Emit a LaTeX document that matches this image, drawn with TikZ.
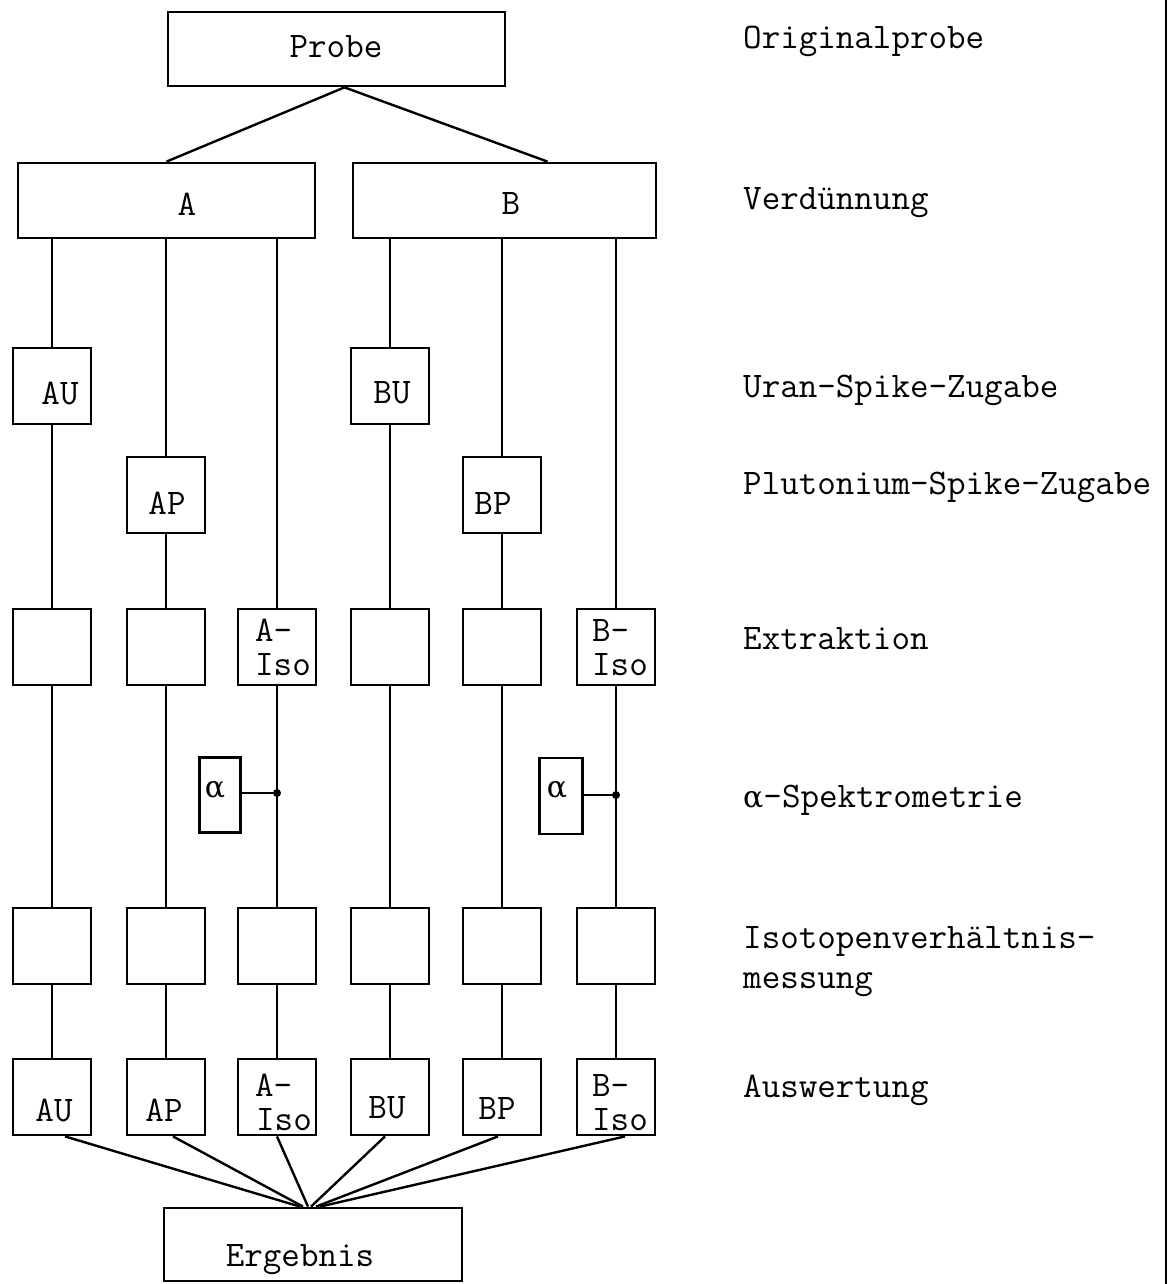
\documentclass[tikz,border=0pt]{standalone}
\usepackage{fontspec}
\newfontfamily\grk{DejaVu Serif}
\newcommand{\alf}{{\grk\fontsize{30}{32}\selectfont α}}
\tikzset{
  bx/.style={draw, line width=2.8pt, inner sep=0pt},
  sq/.style={bx, minimum width=78pt, minimum height=76pt},
  tx/.style={inner sep=0pt, font=\ttfamily\fontsize{36}{38}\selectfont},
  ln/.style={line width=2.4pt},
}
\begin{document}
\begin{tikzpicture}[x=1pt,y=-1pt]
\useasboundingbox (0,0) rectangle (1174,1284);

% top boxes
\node[bx, minimum width=337pt, minimum height=74pt] (P) at (336.5,49) {};
\node[tx] (Pt) at (336,47) {Probe};
\node[bx, minimum width=297pt, minimum height=75pt] (A) at (166.5,200.5) {};
\node[tx] (At) at (187,204) {A};
\node[bx, minimum width=303pt, minimum height=75pt] (B) at (504.5,200.5) {};
\node[tx] (Bt) at (511,204) {B};

\draw[ln] ([xshift=8pt]P.south) -- (A.north);
\draw[ln] ([xshift=8pt]P.south) -- ([xshift=43pt]B.north);

% spike boxes
\node[sq] (U1) at (52,386) {};   \node[tx] (U1t) at (60,393) {AU};
\node[sq] (U4) at (390,386) {};  \node[tx] (U4t) at (392,393) {BU};
\node[sq] (P2) at (166,495) {};  \node[tx] (P2t) at (167,503) {AP};
\node[sq] (P5) at (502,495) {};  \node[tx] (P5t) at (493,503) {BP};

% extraction
\node[sq] (E1) at (52,647) {};
\node[sq] (E2) at (166,647) {};
\node[sq] (E3) at (277,647) {};
\node[tx, anchor=west] (E3a) at (255,630) {A-};
\node[tx, anchor=west] (E3b) at (255,665) {Iso};
\node[sq] (E4) at (390,647) {};
\node[sq] (E5) at (502,647) {};
\node[sq] (E6) at (616,647) {};
\node[tx, anchor=west] (E6a) at (592,630) {B-};
\node[tx, anchor=west] (E6b) at (592,665) {Iso};

% alpha
\node[bx, minimum width=41pt, minimum height=75pt] (L1) at (220,795) {};
\node[inner sep=0pt] (L1t) at (215,790) {\alf};
\node[bx, minimum width=43pt, minimum height=76pt] (L2) at (561,796) {};
\node[inner sep=0pt] (L2t) at (557,790) {\alf};

% isotope
\node[sq] (I1) at (52,946) {};
\node[sq] (I2) at (166,946) {};
\node[sq] (I3) at (277,946) {};
\node[sq] (I4) at (390,946) {};
\node[sq] (I5) at (502,946) {};
\node[sq] (I6) at (616,946) {};

% evaluation
\node[sq] (V1) at (52,1097) {};  \node[tx] (V1t) at (54,1110) {AU};
\node[sq] (V2) at (166,1097) {}; \node[tx] (V2t) at (164,1110) {AP};
\node[sq] (V3) at (277,1097) {};
\node[tx, anchor=west] (V3a) at (255,1085) {A-};
\node[tx, anchor=west] (V3b) at (256,1120) {Iso};
\node[sq] (V4) at (390,1097) {}; \node[tx] (V4t) at (387,1108) {BU};
\node[sq] (V5) at (502,1097) {}; \node[tx] (V5t) at (497,1108) {BP};
\node[sq] (V6) at (616,1097) {};
\node[tx, anchor=west] (V6a) at (592,1085) {B-};
\node[tx, anchor=west] (V6b) at (592,1120) {Iso};

% result
\node[bx, minimum width=298pt, minimum height=73pt] (R) at (313,1244.5) {};
\node[tx, anchor=base] (Rt) at (300,1266) {Ergebnis};

% junctions
\coordinate (J1) at (277,793);
\coordinate (J2) at (616,795);

% columns A
\draw[ln] (A.south -| U1.north) -- (U1.north);
\draw[ln] (U1.south) -- (E1.north);
\draw[ln] (E1.south) -- (I1.north);
\draw[ln] (I1.south) -- (V1.north);

\draw[ln] (A.south -| P2.north) -- (P2.north);
\draw[ln] (P2.south) -- (E2.north);
\draw[ln] (E2.south) -- (I2.north);
\draw[ln] (I2.south) -- (V2.north);

\draw[ln] (A.south -| E3.north) -- (E3.north);
\draw[ln] (E3.south) -- (I3.north);
\draw[ln] (I3.south) -- (V3.north);
\draw[ln] (L1.east |- J1) -- (J1);
\fill (J1) circle (4pt);

% columns B
\draw[ln] (B.south -| U4.north) -- (U4.north);
\draw[ln] (U4.south) -- (E4.north);
\draw[ln] (E4.south) -- (I4.north);
\draw[ln] (I4.south) -- (V4.north);

\draw[ln] (B.south -| P5.north) -- (P5.north);
\draw[ln] (P5.south) -- (E5.north);
\draw[ln] (E5.south) -- (I5.north);
\draw[ln] (I5.south) -- (V5.north);

\draw[ln] (B.south -| E6.north) -- (E6.north);
\draw[ln] (E6.south) -- (I6.north);
\draw[ln] (I6.south) -- (V6.north);
\draw[ln] (L2.east |- J2) -- (J2);
\fill (J2) circle (4pt);

% fan-in to result
\draw[ln] ([xshift=13pt]V1.south) -- ([xshift=-13pt]R.north);
\draw[ln] ([xshift=7pt]V2.south) -- ([xshift=-10pt]R.north);
\draw[ln] (V3.south) -- ([xshift=-5pt]R.north);
\draw[ln] ([xshift=-5pt]V4.south) -- ([xshift=-2pt]R.north);
\draw[ln] ([xshift=-4pt]V5.south) -- ([xshift=3pt]R.north);
\draw[ln] ([xshift=9pt]V6.south) -- ([xshift=7pt]R.north);

% right-hand labels
\node[tx, anchor=base west] (r1) at (743,49) {Originalprobe};
\node[tx, anchor=base west] (r2) at (743,209) {Verdünnung};
\node[tx, anchor=base west] (r3) at (743,397) {Uran-Spike-Zugabe};
\node[tx, anchor=base west] (r4) at (743,494) {Plutonium-Spike-Zugabe};
\node[tx, anchor=base west] (r5) at (743,649) {Extraktion};
\node[tx, anchor=base west] (r6) at (743,807) {\alf-Spektrometrie};
\node[tx, anchor=base west] (r7) at (743,948) {Isotopenverhältnis-};
\node[tx, anchor=base west] (r8) at (743,988) {messung};
\node[tx, anchor=base west] (r9) at (743,1097) {Auswertung};

% divider
\coordinate (d1) at (1166,0);
\coordinate (d2) at (1166,1284);
\draw[line width=2.8pt] (d1) -- (d2);
\end{tikzpicture}
\end{document}
